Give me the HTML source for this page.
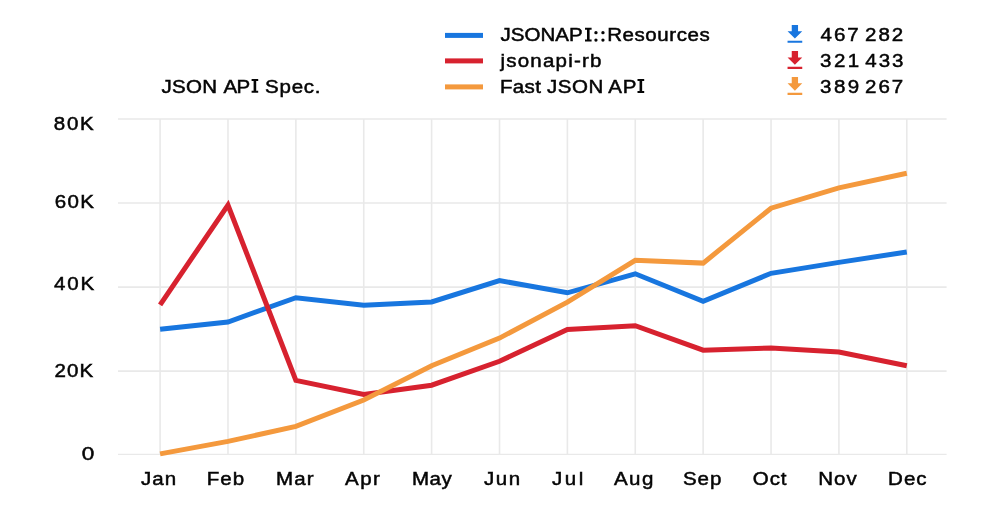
<!DOCTYPE html>
<html><head><meta charset="utf-8"><title>JSON API Spec.</title>
<style>
html,body{margin:0;padding:0;background:#fff;}
body{width:1000px;height:521px;overflow:hidden;}
svg{display:block;will-change:transform;}
.t{font-family:"Liberation Sans",sans-serif;font-size:19.0px;fill:#050505;stroke:#050505;stroke-width:0.5px;}
</style></head><body>
<svg width="1000" height="521" viewBox="0 0 1000 521">
<line x1="118" x2="946.6" y1="119" y2="119" stroke="#e9e9e9" stroke-width="1.6"/>
<line x1="118" x2="946.6" y1="203" y2="203" stroke="#e9e9e9" stroke-width="1.6"/>
<line x1="118" x2="946.6" y1="287.1" y2="287.1" stroke="#e9e9e9" stroke-width="1.6"/>
<line x1="118" x2="946.6" y1="371.1" y2="371.1" stroke="#e9e9e9" stroke-width="1.6"/>
<line x1="118" x2="946.6" y1="454.4" y2="454.4" stroke="#e9e9e9" stroke-width="1.3"/>
<line x1="160.10" x2="160.10" y1="119" y2="454.4" stroke="#e9e9e9" stroke-width="1.6"/>
<line x1="227.98" x2="227.98" y1="119" y2="454.4" stroke="#e9e9e9" stroke-width="1.6"/>
<line x1="295.86" x2="295.86" y1="119" y2="454.4" stroke="#e9e9e9" stroke-width="1.6"/>
<line x1="363.75" x2="363.75" y1="119" y2="454.4" stroke="#e9e9e9" stroke-width="1.6"/>
<line x1="431.63" x2="431.63" y1="119" y2="454.4" stroke="#e9e9e9" stroke-width="1.6"/>
<line x1="499.51" x2="499.51" y1="119" y2="454.4" stroke="#e9e9e9" stroke-width="1.6"/>
<line x1="567.39" x2="567.39" y1="119" y2="454.4" stroke="#e9e9e9" stroke-width="1.6"/>
<line x1="635.27" x2="635.27" y1="119" y2="454.4" stroke="#e9e9e9" stroke-width="1.6"/>
<line x1="703.15" x2="703.15" y1="119" y2="454.4" stroke="#e9e9e9" stroke-width="1.6"/>
<line x1="771.04" x2="771.04" y1="119" y2="454.4" stroke="#e9e9e9" stroke-width="1.6"/>
<line x1="838.92" x2="838.92" y1="119" y2="454.4" stroke="#e9e9e9" stroke-width="1.6"/>
<line x1="906.80" x2="906.80" y1="119" y2="454.4" stroke="#e9e9e9" stroke-width="1.6"/>
<polyline points="160.10,329.30 227.98,322.00 295.86,297.70 363.75,305.20 431.63,302.00 499.51,280.60 567.39,292.80 635.27,273.80 703.15,301.30 771.04,273.30 838.92,262.40 906.80,252.00" fill="none" stroke="#1876df" stroke-width="5" stroke-linejoin="miter" stroke-miterlimit="10" stroke-linecap="butt"/>
<polyline points="160.10,304.80 227.98,205.00 295.86,380.40 363.75,394.40 431.63,385.20 499.51,361.30 567.39,329.50 635.27,325.70 703.15,350.20 771.04,348.00 838.92,352.00 906.80,365.80" fill="none" stroke="#d7222f" stroke-width="5" stroke-linejoin="miter" stroke-miterlimit="10" stroke-linecap="butt"/>
<polyline points="160.10,453.90 227.98,441.40 295.86,426.40 363.75,400.00 431.63,365.70 499.51,338.10 567.39,302.10 635.27,260.30 703.15,263.10 771.04,208.20 838.92,187.80 906.80,173.20" fill="none" stroke="#f4993d" stroke-width="5" stroke-linejoin="miter" stroke-miterlimit="10" stroke-linecap="butt"/>
<text id="title_1" class="t" transform="translate(161.40 93) scale(1.0800 1)" style="letter-spacing:0.309px">JSON</text>
<text id="title_2" class="t" transform="translate(223.40 93) scale(1.0800 1)" style="letter-spacing:-0.556px">AP</text>
<text id="title_3" class="t" transform="translate(265.10 93) scale(1.0800 1)" style="letter-spacing:0.694px">Spec.</text>
<text id="leg1_1" class="t" transform="translate(500.50 41) scale(1.0800 1)">JSONAP</text>
<text id="leg1_3" class="t" transform="translate(607.25 41) scale(1.0800 1)" style="letter-spacing:0.509px">Resources</text>
<text id="leg2" class="t" transform="translate(500.50 67) scale(1.0800 1)" style="letter-spacing:1.111px">jsonapi-rb</text>
<text id="leg3_1" class="t" transform="translate(500.00 93) scale(1.0800 1)" style="letter-spacing:0.309px">Fast</text>
<text id="leg3_2" class="t" transform="translate(547.10 93) scale(1.0800 1)" style="letter-spacing:0.432px">JSON</text>
<text id="leg3_3" class="t" transform="translate(608.20 93) scale(1.0800 1)" style="letter-spacing:0.741px">AP</text>
<text id="num1a" class="t" transform="translate(820.50 41) scale(1.0800 1)" style="letter-spacing:1.852px">467</text>
<text id="num1b" class="t" transform="translate(865.00 41) scale(1.0800 1)" style="letter-spacing:1.852px">282</text>
<text id="num2a" class="t" transform="translate(820.00 67) scale(1.0800 1)" style="letter-spacing:2.315px">321</text>
<text id="num2b" class="t" transform="translate(865.25 67) scale(1.0800 1)" style="letter-spacing:1.852px">433</text>
<text id="num3a" class="t" transform="translate(820.00 93) scale(1.0800 1)" style="letter-spacing:2.315px">389</text>
<text id="num3b" class="t" transform="translate(865.00 93) scale(1.0800 1)" style="letter-spacing:1.852px">267</text>
<text id="y80" class="t" transform="translate(53.80 130) scale(1.0800 1)" style="letter-spacing:1.574px">80K</text>
<text id="y60" class="t" transform="translate(54.70 208) scale(1.0800 1)" style="letter-spacing:1.296px">60K</text>
<text id="y40" class="t" transform="translate(54.00 290) scale(1.0800 1)" style="letter-spacing:1.667px">40K</text>
<text id="y20" class="t" transform="translate(54.60 377) scale(1.0800 1)" style="letter-spacing:1.019px">20K</text>
<text id="y0" class="t" transform="translate(81.70 460) scale(1.1864 1)">0</text>
<text id="Jan" class="t" transform="translate(141.00 485) scale(1.0800 1)" style="letter-spacing:1.019px">Jan</text>
<text id="Feb" class="t" transform="translate(206.80 485) scale(1.0800 1)" style="letter-spacing:0.926px">Feb</text>
<text id="Mar" class="t" transform="translate(276.00 485) scale(1.0800 1)" style="letter-spacing:1.019px">Mar</text>
<text id="Apr" class="t" transform="translate(345.00 485) scale(1.0800 1)" style="letter-spacing:1.389px">Apr</text>
<text id="May" class="t" transform="translate(412.00 485) scale(1.0800 1)" style="letter-spacing:0.463px">May</text>
<text id="Jun" class="t" transform="translate(484.00 485) scale(1.0800 1)" style="letter-spacing:1.389px">Jun</text>
<text id="Jul" class="t" transform="translate(552.00 485) scale(1.0800 1)" style="letter-spacing:2.315px">Jul</text>
<text id="Aug" class="t" transform="translate(614.00 485) scale(1.0800 1)" style="letter-spacing:1.296px">Aug</text>
<text id="Sep" class="t" transform="translate(683.00 485) scale(1.0800 1)" style="letter-spacing:0.833px">Sep</text>
<text id="Oct" class="t" transform="translate(752.80 485) scale(1.0800 1)" style="letter-spacing:0.833px">Oct</text>
<text id="Nov" class="t" transform="translate(818.20 485) scale(1.0800 1)" style="letter-spacing:1.019px">Nov</text>
<text id="Dec" class="t" transform="translate(888.10 485) scale(1.0800 1)" style="letter-spacing:0.926px">Dec</text>
<path fill="#050505" d="M251.60 79.00H258.20V81.00H256.20V90.80H258.20V92.80H251.60V90.80H253.60V81.00H251.60Z"/>
<path fill="#050505" d="M585.00 27.70H591.60V29.70H589.60V39.60H591.60V41.60H585.00V39.60H587.00V29.70H585.00Z"/>
<circle cx="595.95" cy="32.65" r="1.65" fill="#050505"/>
<circle cx="595.95" cy="40.05" r="1.65" fill="#050505"/>
<circle cx="602.95" cy="32.65" r="1.65" fill="#050505"/>
<circle cx="602.95" cy="40.05" r="1.65" fill="#050505"/>
<path fill="#050505" d="M637.50 79.00H644.20V81.00H642.15V90.90H644.20V92.90H637.50V90.90H639.55V81.00H637.50Z"/>
<rect x="445" y="32.9" width="38" height="5" fill="#1876df"/>
<g transform="translate(782.3 21.75) scale(1.05)" fill="#1876df"><path d="M19 9h-4V3H9v6H5l7 7 7-7zM5 18v2h14v-2H5z"/></g>
<rect x="445" y="58.4" width="38" height="5" fill="#d7222f"/>
<g transform="translate(782.3 47.95) scale(1.05)" fill="#d7222f"><path d="M19 9h-4V3H9v6H5l7 7 7-7zM5 18v2h14v-2H5z"/></g>
<rect x="445" y="84.4" width="38" height="5" fill="#f4993d"/>
<g transform="translate(782.3 73.9) scale(1.05)" fill="#f4993d"><path d="M19 9h-4V3H9v6H5l7 7 7-7zM5 18v2h14v-2H5z"/></g>
</svg>
</body></html>
